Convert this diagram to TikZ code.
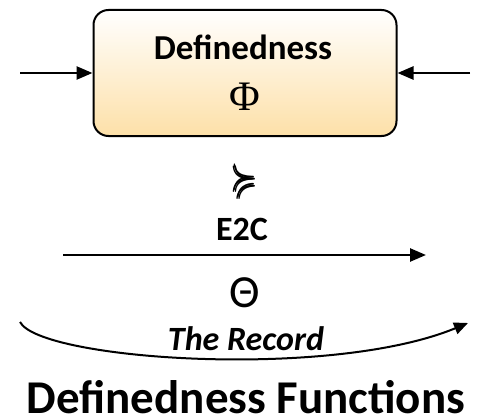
\documentclass[tikz,border=0pt]{standalone}
\usepackage{amsmath}
\usepackage{amssymb}
\usepackage{graphicx}
\usepackage{fontspec}
\setmainfont{Carlito}
\newfontfamily\serifsym{Liberation Serif}
\usetikzlibrary{arrows.meta}
\definecolor{boxbot}{RGB}{253,224,168}
\tikzset{
  mainbox/.style={draw=black, line width=2pt, rounded corners=15pt, top color=white, bottom color=boxbot, minimum width=303pt, minimum height=126pt},
  conn/.style={line width=2.5pt, -{Triangle[length=16pt,width=13pt]}},
  thin conn/.style={line width=2pt, -{Triangle[length=14pt,width=12pt]}},
  lbl/.style={font=\fontsize{35}{40}\selectfont\bfseries, inner sep=0pt, anchor=base}
}
\begin{document}
\begin{tikzpicture}[x=1pt,y=-1pt]
\useasboundingbox (0,0) rectangle (477,420);
\node[mainbox] (box) at (245,73) {};
\node[lbl] (title) at (243,60) {Definedness};
\node[inner sep=0pt, font=\fontsize{42}{44}\selectfont\serifsym] (phi) at (245,97) {Φ};
\coordinate (lin) at (20,73);
\coordinate (rin) at (470,73);
\draw[conn] (lin) -- (box.west);
\draw[conn] (rin) -- (box.east);
\node[inner sep=0pt] (succ) at (245,180) {\scalebox{3.3}[4.6]{$\pmb{\succcurlyeq}$}};
\node[lbl, font=\fontsize{34}{40}\selectfont\bfseries] (e2c) at (242,240) {E2C};
\coordinate (as) at (63,255);
\coordinate (ae) at (426,255);
\draw[conn] (as) -- (ae);
\node[inner sep=0pt, font=\fontsize{46}{48}\selectfont] (theta) at (245,293) {Θ};
\coordinate (cs) at (20,322);
\coordinate (ce) at (468,323);
\draw[thin conn] (cs) .. controls (40,360) and (330,380) .. (ce);
\node[lbl, font=\fontsize{34}{40}\selectfont\bfseries\itshape] (rec) at (246,350) {The Record};
\node[lbl, font=\fontsize{47}{50}\selectfont\bfseries] (foot) at (246,413) {Definedness Functions};
\end{tikzpicture}
\end{document}
